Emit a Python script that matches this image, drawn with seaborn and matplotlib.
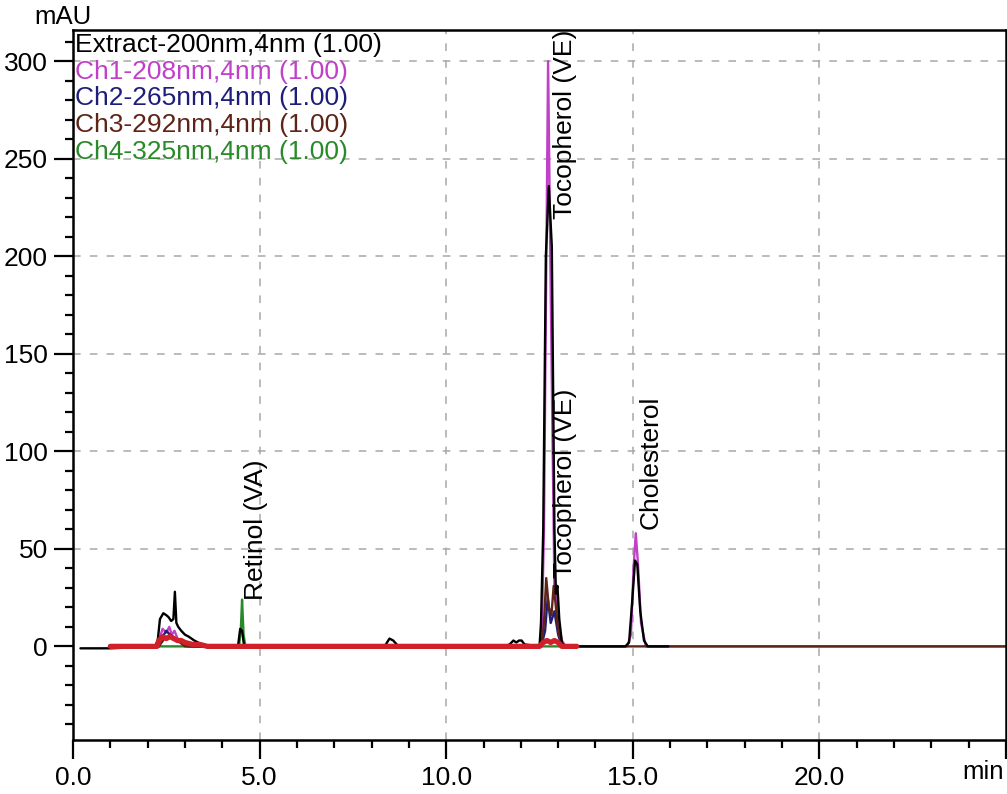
import matplotlib
matplotlib.use("Agg")
import matplotlib.pyplot as plt
import numpy as np
import pandas as pd
import seaborn as sns
from matplotlib.ticker import MultipleLocator, FixedLocator

# --- chromatogram traces (retention time in min, absorbance in mAU) ---
extract_time = [0.2, 0.5, 1.0, 2.2, 2.27, 2.33, 2.42, 2.5, 2.56, 2.63, 2.69, 2.73, 2.77,
                2.82, 2.9, 3.0, 3.1, 3.25, 3.45, 3.62, 4.42, 4.48, 4.53, 4.58, 4.65,
                8.35, 8.48, 8.58, 8.72, 11.55, 11.7, 11.8, 11.88, 11.95, 12.02, 12.1,
                12.5, 12.54, 12.6, 12.67, 12.75, 12.83, 12.9, 12.94, 12.98, 13.03,
                13.1, 13.17, 14.8, 14.9, 14.98, 15.06, 15.12, 15.2, 15.3, 15.4, 15.95]
extract_mau = [-1, -1, -1, 0, 3, 14, 17, 16, 15, 13, 14, 28, 12,
               10, 8, 6, 5, 3, 1, 0, 0, 9, 8, 1, 0,
               0, 4, 3, 0, 0, 1, 3, 2, 3, 3, 1,
               0, 12, 60, 200, 236, 205, 60, 27, 31, 14,
               2, 0, 0, 2, 22, 44, 42, 18, 3, 0, 0]

ch1_time = [1.0, 2.25, 2.32, 2.4, 2.5, 2.58, 2.65, 2.72, 2.8, 2.9, 3.0, 3.2, 3.5,
            12.5, 12.56, 12.62, 12.67, 12.73, 12.79, 12.84, 12.9, 12.96, 13.02, 13.1,
            13.2, 14.85, 14.95, 15.02, 15.08, 15.14, 15.22, 15.35, 25.0]
ch1_mau = [0, 0, 4, 9, 7, 10, 6, 8, 4, 3, 1, 0, 0,
           0, 6, 60, 170, 300, 200, 120, 30, 27, 10, 3,
           0, 0, 6, 40, 58, 42, 12, 0, 0]

ch2_time = [1.0, 2.3, 2.4, 2.5, 2.6, 2.75, 2.9, 3.1, 12.55, 12.65, 12.72, 12.8,
            12.9, 13.0, 13.1, 13.5]
ch2_mau = [0, 0, 5, 8, 6, 4, 2, 0, 0, 8, 25, 12, 18, 6, 0, 0]

ch3_time = [1.0, 2.3, 2.45, 2.6, 2.8, 3.0, 12.55, 12.62, 12.68, 12.75, 12.82, 12.88,
            12.93, 13.0, 13.08, 13.15, 25.0]
ch3_mau = [0, 0, 4, 6, 3, 0, 0, 12, 35, 20, 16, 31, 22, 8, 2, 0, 0]

ch4_time = [1.0, 4.45, 4.5, 4.53, 4.57, 4.62, 13.5]
ch4_mau = [0, 0, 10, 24, 6, 0, 0]

base_time = [1.0, 2.25, 2.3, 2.4, 2.5, 2.6, 2.7, 2.8, 2.9, 3.0, 3.2, 3.4, 3.6,
             12.5, 12.6, 12.7, 12.8, 12.9, 13.0, 13.1, 13.5]
base_mau = [0, 0, 3, 5, 4, 5, 4, 3, 3, 2, 1, 1, 0, 0, 2, 3, 2, 3, 2, 0, 0]

channel_names = ["Extract-200nm,4nm (1.00)", "Ch1-208nm,4nm (1.00)",
                 "Ch2-265nm,4nm (1.00)", "Ch3-292nm,4nm (1.00)",
                 "Ch4-325nm,4nm (1.00)"]
channel_colors = ["#000000", "#c040c8", "#1e1e7a", "#5e2418", "#2a8a2a"]

peak_names = ["Retinol (VA)", "Tocopherol (VE)", "Tocopherol (VE)", "Cholesterol"]
peak_label_time = [4.9, 13.19, 13.19, 15.47]
peak_label_mau = [24, 219, 35, 60]

x_major = [0, 5, 10, 15, 20, 25]
x_labels = ["0.0", "5.0", "10.0", "15.0", "20.0", ""]
y_major = [0, 50, 100, 150, 200, 250, 300]

traces = [
    (channel_names[1], ch1_time, ch1_mau),
    (channel_names[4], ch4_time, ch4_mau),
    (channel_names[2], ch2_time, ch2_mau),
    (channel_names[3], ch3_time, ch3_mau),
    (channel_names[0], extract_time, extract_mau),
]
df = pd.concat(
    [pd.DataFrame({"time": t, "mAU": v, "channel": n}) for n, t, v in traces],
    ignore_index=True,
)
palette = dict(zip(channel_names, channel_colors))

sns.set_theme(style="white")
plt.rcParams["font.family"] = ["Liberation Sans", "DejaVu Sans"]
plt.rcParams["text.color"] = "black"
plt.rcParams["xtick.color"] = "black"
plt.rcParams["ytick.color"] = "black"

fig = plt.figure(figsize=(10.07, 7.94), dpi=100)
ax = fig.add_axes([73 / 1007, 1 - 740 / 794, 933 / 1007, 710 / 794])

sns.lineplot(data=df, x="time", y="mAU", hue="channel",
             hue_order=[n for n, _, _ in traces], palette=palette,
             estimator=None, sort=False, legend=False, linewidth=1.7, ax=ax)
sns.lineplot(x=base_time, y=base_mau, color="#d0202a", linewidth=3.8,
             estimator=None, sort=False, ax=ax)

ax.set_xlim(0, 25)
ax.set_ylim(-48, 316)
ax.xaxis.set_major_locator(FixedLocator(x_major))
ax.set_xticklabels(x_labels)
ax.xaxis.set_minor_locator(MultipleLocator(1))
ax.set_yticks(y_major)
ax.set_yticklabels([str(v) for v in y_major])
ax.yaxis.set_minor_locator(MultipleLocator(10))
ax.tick_params(which="major", direction="out", length=14, width=1.6,
               colors="black", labelsize=19, pad=4, bottom=True, left=True)
ax.tick_params(which="minor", direction="out", length=6, width=1.6,
               colors="black", bottom=True, left=True)
ax.tick_params(axis="x", which="major", pad=5)
ax.set_xlabel("")
ax.set_ylabel("")

for s in ax.spines.values():
    s.set_color("black")
    s.set_linewidth(1.8)

for xv in x_major[1:-1]:
    ax.axvline(xv, color="#a8a8a8", lw=1.1, ls=(0, (5, 6)), zorder=0)
for yv in y_major[1:]:
    ax.axhline(yv, color="#a8a8a8", lw=1.1, ls=(0, (5, 6)), zorder=0)

# channel list in the upper left corner
for i, (name, col) in enumerate(zip(channel_names, channel_colors)):
    ax.text(0.002, 0.979 - i * 0.0377, name, color=col, fontsize=19,
            transform=ax.transAxes, ha="left", va="center")

# peak identification labels
for name, xt, yt in zip(peak_names, peak_label_time, peak_label_mau):
    ax.text(xt, yt, name, rotation=90, ha="center", va="bottom",
            fontsize=19, color="black", clip_on=False)

fig.text(63 / 1007, 1 - 17 / 794, "mAU", fontsize=18.5, ha="center", va="center")
fig.text(983 / 1007, 1 - 772 / 794, "min", fontsize=18.5, ha="center", va="center")

fig.savefig("out.png", dpi=100)
